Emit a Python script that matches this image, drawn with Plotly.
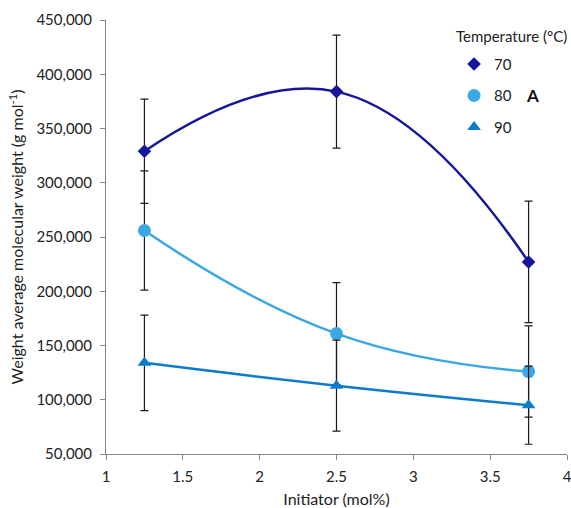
import plotly.graph_objects as go

initiator = [1.25, 2.5, 3.75]
temps = ["70", "80", "90"]
mw_70 = [329000, 384000, 227000]
err_70 = [48000, 52000, 56000]
mw_80 = [256000, 161000, 126000]
err_80 = [55000, 47000, 42000]
mw_90 = [134000, 113000, 95000]
err_90 = [44000, 42000, 36000]

colors = ["#16169C", "#3BA8E3", "#0A7CCB"]
symbols = ["diamond", "circle", "triangle-up"]
msizes = [10.5, 13, 12]
series = [(mw_70, err_70), (mw_80, err_80), (mw_90, err_90)]

FONT = "Lato, 'Open Sans', sans-serif"
fig = go.Figure()
for i, (vals, errs) in enumerate(series):
    fig.add_trace(go.Scatter(
        x=initiator, y=vals, mode="lines+markers",
        line=dict(color=colors[i], width=2.5, shape="spline", smoothing=1.3),
        marker=dict(symbol=symbols[i], size=msizes[i], color=colors[i]),
        error_y=dict(type="data", array=errs, visible=True, color="#1a1a1a", thickness=1.2, width=4),
        showlegend=False,
    ))
for i, t in enumerate(temps):
    fig.add_trace(go.Scatter(
        x=[None], y=[None], mode="markers", name=t, legendgroup=t,
        marker=dict(symbol=symbols[i], size=msizes[i], color=colors[i]),
    ))

fig.update_layout(
    width=571, height=508,
    margin=dict(l=106, r=4, t=20, b=54, autoexpand=False),
    plot_bgcolor="white", paper_bgcolor="white",
    font=dict(family=FONT, size=15, color="#222222"),
    showlegend=True,
    legend=dict(x=0.755, y=0.936, xanchor="left", yanchor="top",
                font=dict(size=15, color="#222222"),
                traceorder="grouped", tracegroupgap=9,
                itemwidth=30, bgcolor="rgba(0,0,0,0)"),
    xaxis=dict(range=[1, 4], tickvals=[1, 1.5, 2, 2.5, 3, 3.5, 4],
               ticktext=["1", "1.5", "2", "2.5", "3", "3.5", "4"],
               showline=True, linecolor="#868686", linewidth=1,
               ticks="outside", ticklen=5, tickcolor="#868686",
               showgrid=False, zeroline=False, ticklabeloverflow="allow",
               ticklabelstandoff=4, automargin=False,
               title=dict(text="Initiator (mol%)", font=dict(size=16), standoff=16),
               tickfont=dict(size=15)),
    yaxis=dict(range=[50000, 450000], dtick=50000, tickformat=",",
               showline=True, linecolor="#868686", linewidth=1,
               ticks="outside", ticklen=5, tickcolor="#868686",
               showgrid=False, zeroline=False, ticklabelstandoff=5, automargin=False,
               title=dict(text="Weight average molecular weight (g mol<sup>-1</sup>)", font=dict(size=16), standoff=8),
               tickfont=dict(size=15)),
    annotations=[
        dict(text="Temperature (°C)", xref="paper", yref="paper", x=1.005, y=0.962,
             xanchor="right", yanchor="middle", showarrow=False, font=dict(size=15, color="#222222")),
        dict(text="<b>A</b>", xref="paper", yref="paper", x=0.925, y=0.825,
             xanchor="center", yanchor="middle", showarrow=False, font=dict(size=17, color="#111111")),
    ],
)
fig.write_html("out.html", config={"displayModeBar": False},
               post_script="document.body.style.margin='0px';")
